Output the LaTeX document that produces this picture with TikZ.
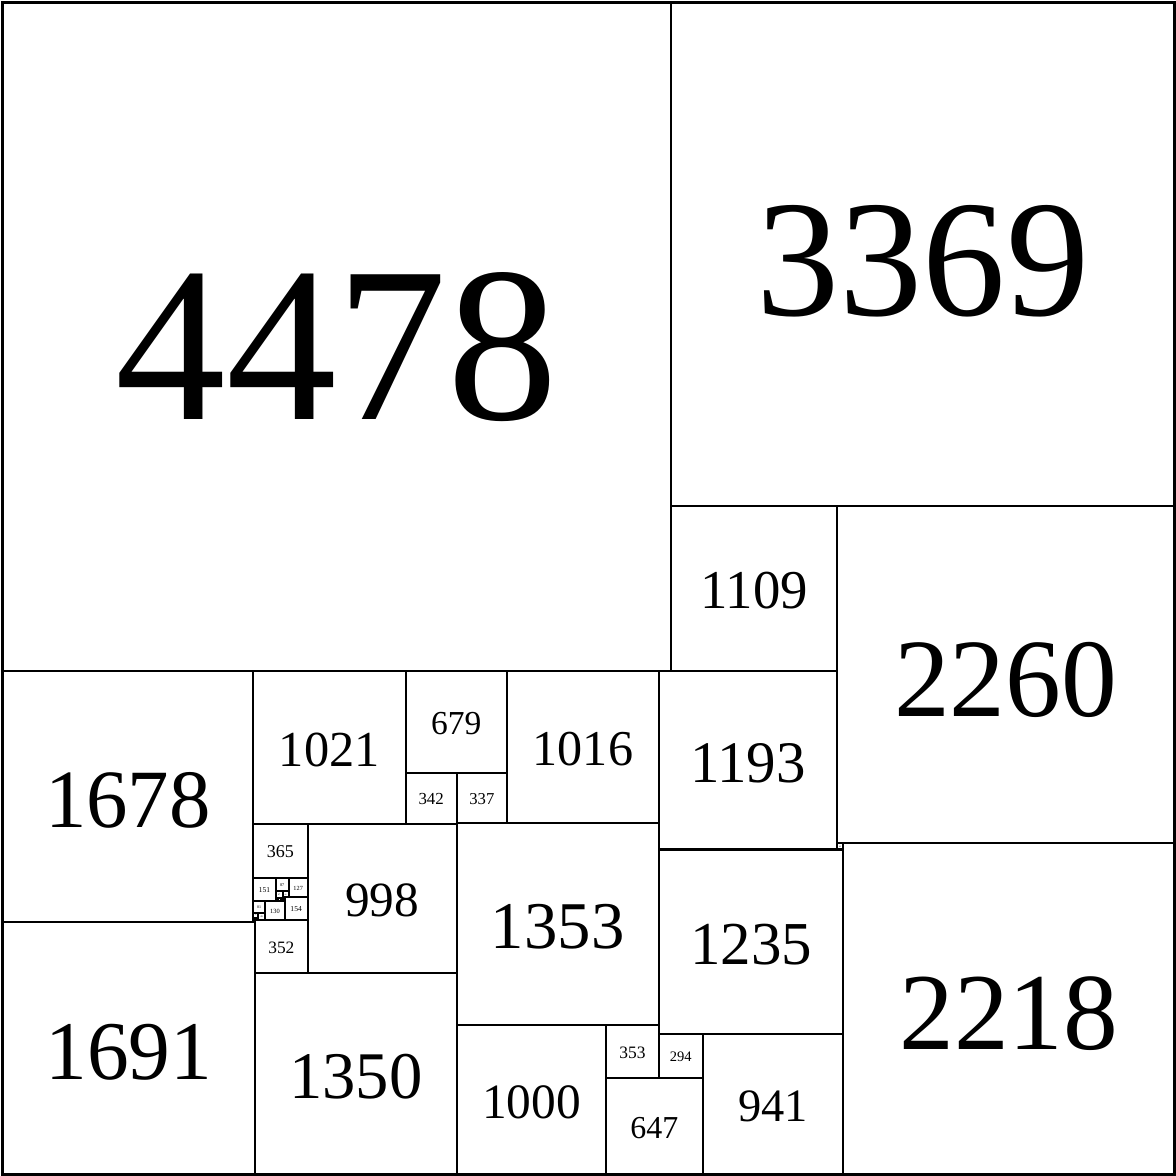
\documentclass[tikz,border=0pt]{standalone}
\usepackage{fontspec}
\setmainfont{Liberation Serif}
\tikzset{
  sqline/.style={draw=black, line width=0.8pt},
  sqlabel/.style={inner sep=0pt, text=black}
}
% \sqbox{x}{y}{side}: square with top-left corner (x,y), y measured downward
\newcommand\sqbox[3]{%
  \draw[sqline] (#1,#2) rectangle ++(#3,#3);
  \ifnum#3>29
    \pgfmathsetmacro\sqfs{0.0188*#3}%
    \node[sqlabel, font=\fontsize{\sqfs pt}{\sqfs pt}\selectfont] (q#1-#2) at ({#1+#3/2},{#2+#3/2+0.015*#3}) {#3};
  \fi
}
\begin{document}
\begin{tikzpicture}[x=0.002cm, y=-0.002cm]
\useasboundingbox (-17,-17) rectangle (7857,7857);
% large squares
\sqbox{0}{0}{4478}
\sqbox{4478}{0}{3369}
\sqbox{4478}{3369}{1109}
\sqbox{5587}{3369}{2260}
\sqbox{0}{4478}{1678}
\sqbox{0}{6156}{1691}
\sqbox{1678}{4478}{1021}
\sqbox{2699}{4478}{679}
\sqbox{2699}{5157}{342}
\sqbox{3041}{5157}{337}
\sqbox{3378}{4478}{1016}
\sqbox{4394}{4478}{1193}
\sqbox{5587}{5629}{42}
\sqbox{5629}{5629}{2218}
\sqbox{4394}{5671}{1235}
\sqbox{3041}{5494}{1353}
\sqbox{2043}{5499}{998}
\sqbox{1678}{5499}{365}
\sqbox{1691}{6145}{352}
\sqbox{1691}{6497}{1350}
\sqbox{3041}{6847}{1000}
\sqbox{4041}{6847}{353}
\sqbox{4041}{7200}{647}
\sqbox{4394}{6906}{294}
\sqbox{4688}{6906}{941}
% small cluster
\sqbox{1678}{5864}{151}
\sqbox{1829}{5864}{87}
\sqbox{1916}{5864}{127}
\sqbox{1889}{5991}{154}
\sqbox{1759}{6015}{130}
\sqbox{1678}{6015}{81}
% region under 87
\sqbox{1829}{5951}{47}
\sqbox{1876}{5951}{40}
\sqbox{1829}{5998}{17}
\sqbox{1846}{5998}{17}
\sqbox{1863}{5998}{13}
\sqbox{1876}{5991}{13}
\sqbox{1876}{6004}{11}
\sqbox{1863}{6011}{4}
\sqbox{1867}{6011}{4}
\sqbox{1871}{6011}{4}
\sqbox{1875}{6011}{1}
\sqbox{1875}{6012}{1}
\sqbox{1875}{6013}{1}
\sqbox{1875}{6014}{1}
\sqbox{1887}{6004}{2}
\sqbox{1887}{6006}{2}
\sqbox{1887}{6008}{2}
\sqbox{1887}{6010}{2}
\sqbox{1887}{6012}{2}
\sqbox{1887}{6014}{1}
\sqbox{1888}{6014}{1}
% region under 81
\sqbox{1678}{6096}{32}
\sqbox{1710}{6096}{49}
\sqbox{1678}{6128}{15}
\sqbox{1693}{6128}{17}
\sqbox{1678}{6143}{13}
\sqbox{1691}{6143}{2}
\end{tikzpicture}
\end{document}
